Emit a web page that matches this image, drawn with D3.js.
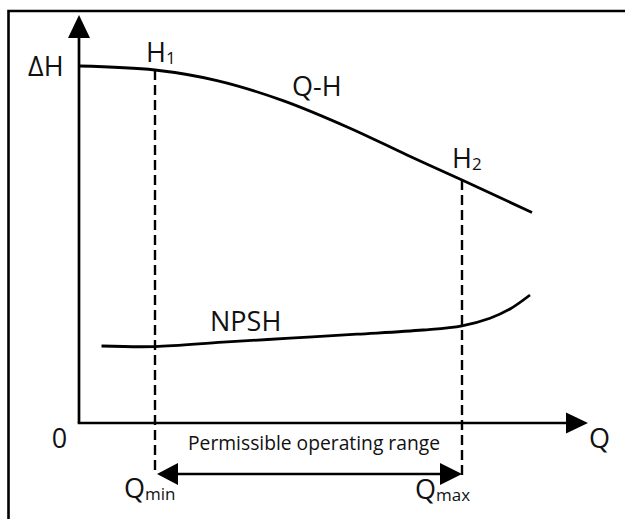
<!DOCTYPE html>
<html>
<head>
<meta charset="utf-8">
<script src="https://cdn.jsdelivr.net/npm/d3@7"></script>
<style>
  html, body { margin: 0; padding: 0; background: #fff; }
  svg { display: block; }
  text { font-family: "Open Sans", "DejaVu Sans", sans-serif; fill: #111; }
</style>
</head>
<body>
<svg id="chart" width="625" height="519"></svg>
<script>
// Pump characteristic: head curve (Q-H) and NPSH curve over flow Q
const qhFlow  = [0, 15.2, 27.6, 40.8, 54.2, 65.6, 76.6, 90.6];
const qhHead  = [89.25, 88.25, 85.6, 80.6, 73.7, 67, 60.75, 52.6];

const npshFlow = [4.5, 15.2, 28.8, 42.2, 55.6, 68.8, 76.6, 82.2, 86.2, 90.2];
const npshHead = [19.25, 19.1, 20.2, 21.2, 22.2, 23.25, 24.3, 26.2, 28.5, 32];

// Operating limits
const qMin = 15.2;
const qMax = 76.6;
const rangeLabel = "Permissible operating range";

const svg = d3.select("#chart");

const x = d3.scaleLinear().domain([0, 100]).range([79, 579]);
const y = d3.scaleLinear().domain([0, 100]).range([423, 23]);

const ink = "#000";

// frame
svg.append("path")
  .attr("d", "M8.5,530 L8.5,11 L630,11")
  .attr("fill", "none").attr("stroke", ink).attr("stroke-width", 2.6);

// axes (no ticks)
svg.append("line")
  .attr("x1", x(0)).attr("y1", y(0)).attr("x2", x(0)).attr("y2", 36)
  .attr("stroke", ink).attr("stroke-width", 2.7);
svg.append("line")
  .attr("x1", x(0) - 1.3).attr("y1", y(0)).attr("x2", x(97.5)).attr("y2", y(0))
  .attr("stroke", ink).attr("stroke-width", 2.7);

// filled triangular arrow head pointing along dir
const arrowHead = (tipX, tipY, dir, len, half) => {
  const [dx, dy] = dir;
  const bx = tipX - dx * len, by = tipY - dy * len;
  const px = -dy, py = dx;
  return `M${tipX},${tipY} L${bx + px * half},${by + py * half} L${bx - px * half},${by - py * half} Z`;
};
svg.append("path").attr("d", arrowHead(x(0), 15, [0, -1], 23, 11)).attr("fill", ink);
svg.append("path").attr("d", arrowHead(588, y(0), [1, 0], 22, 10.5)).attr("fill", ink);

// curves
const lineGen = d3.line()
  .x(d => x(d[0])).y(d => y(d[1]))
  .curve(d3.curveCatmullRom.alpha(0.5));

svg.append("path")
  .datum(d3.zip(qhFlow, qhHead))
  .attr("d", lineGen)
  .attr("fill", "none").attr("stroke", ink).attr("stroke-width", 2.8);

svg.append("path")
  .datum(d3.zip(npshFlow, npshHead))
  .attr("d", lineGen)
  .attr("fill", "none").attr("stroke", ink).attr("stroke-width", 2.8);

// head at the operating limits
const headAt = q => {
  const i = d3.bisectLeft(qhFlow, q);
  if (qhFlow[i] === q) return qhHead[i];
  const t = (q - qhFlow[i - 1]) / (qhFlow[i] - qhFlow[i - 1]);
  return qhHead[i - 1] + t * (qhHead[i] - qhHead[i - 1]);
};

const rangeLevel = -12.75;

[qMin, qMax].forEach(q => {
  svg.append("line")
    .attr("x1", x(q)).attr("x2", x(q))
    .attr("y1", y(headAt(q))).attr("y2", y(rangeLevel) + 1)
    .attr("stroke", ink).attr("stroke-width", 2.4)
    .attr("stroke-dasharray", "10,5");
});

// permissible range double arrow
svg.append("line")
  .attr("x1", x(qMin) + 15).attr("x2", x(qMax) - 15)
  .attr("y1", y(rangeLevel)).attr("y2", y(rangeLevel))
  .attr("stroke", ink).attr("stroke-width", 2.7);
svg.append("path").attr("d", arrowHead(x(qMin) + 2, y(rangeLevel), [-1, 0], 21, 11)).attr("fill", ink);
svg.append("path").attr("d", arrowHead(x(qMax), y(rangeLevel), [1, 0], 22, 11)).attr("fill", ink);

// labels
const big = 27;
const addText = (tx, ty, str, size, anchor) =>
  svg.append("text").attr("x", tx).attr("y", ty)
    .attr("font-size", size).attr("text-anchor", anchor || "start").text(str);

addText(28, 76, "\u0394H", big);
addText(59.5, 448, "0", big, "middle");
addText(589, 448, "Q", big);
addText(292, 96, "Q-H", big);
addText(210, 331, "NPSH", big);

const subLabel = (tx, ty, main, sub, size, subSize) => {
  const t = svg.append("text").attr("x", tx).attr("y", ty).attr("font-size", size);
  t.append("tspan").text(main);
  t.append("tspan").attr("font-size", subSize).attr("dy", 2).text(sub);
};
subLabel(146, 62, "H", "1", big, 17);
subLabel(452, 168, "H", "2", big, 17);
subLabel(124, 498, "Q", "min", big, 17);
subLabel(415, 499, "Q", "max", big, 17);

svg.append("text")
  .attr("x", 188).attr("y", 450)
  .attr("font-size", 20)
  .attr("textLength", 252).attr("lengthAdjust", "spacingAndGlyphs")
  .text(rangeLabel);
</script>
</body>
</html>
